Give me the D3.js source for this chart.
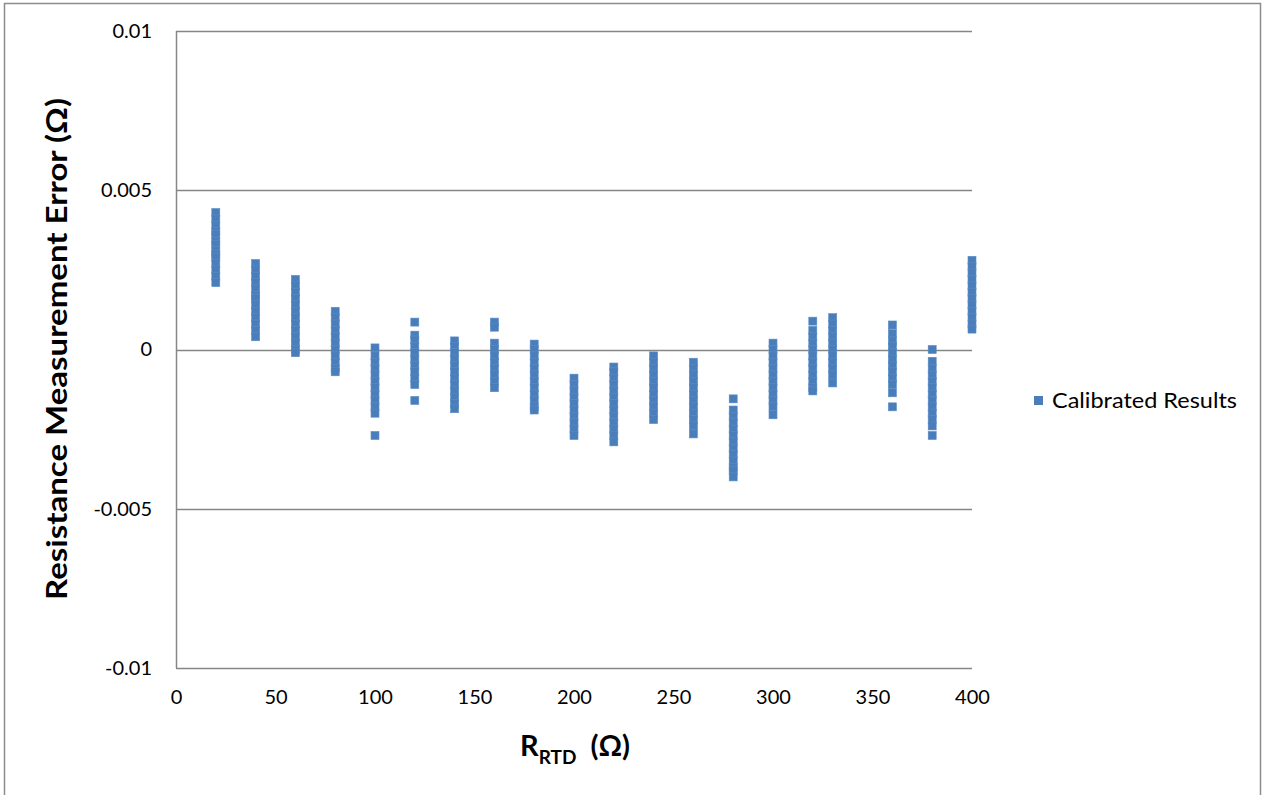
<!DOCTYPE html>
<html>
<head>
<meta charset="utf-8">
<script src="https://cdn.jsdelivr.net/npm/d3@7"></script>
<style>
  body { margin: 0; background: #fff; }
  text { font-family: Lato, "Open Sans", sans-serif; fill: #000; }
</style>
</head>
<body>
<svg id="chart" width="1262" height="795"></svg>
<script>
// RTD resistance points (ohm)
const rtd = [20, 40, 60, 80, 100, 120, 140, 160, 180, 200, 220, 240, 260, 280, 300, 320, 330, 360, 380, 400]

// measurement error readings at each RTD value (ohm)
const errors = [
  [0.0043, 0.0041, 0.0039, 0.0037, 0.0036, 0.0034, 0.0033, 0.0031, 0.0030, 0.0029, 0.0027, 0.0025, 0.0023, 0.0021],
  [0.0027, 0.0025, 0.0023, 0.0021, 0.0019, 0.0017, 0.0016, 0.0014, 0.0012, 0.0010, 0.0008, 0.0006, 0.0004],
  [0.0022, 0.0020, 0.0018, 0.0016, 0.0014, 0.0012, 0.0010, 0.0008, 0.0006, 0.0004, 0.0002, 0.0000, -0.0001],
  [0.0012, 0.0010, 0.0008, 0.0006, 0.0004, 0.0002, 0.0000, -0.0002, -0.0004, -0.0006, -0.0007],
  [0.00005, -0.0002, -0.0004, -0.0006, -0.0008, -0.0010, -0.0012, -0.0014, -0.0016, -0.0018, -0.0020, -0.0027],
  [0.00086, 0.00045, 0.0003, 0.0001, -0.0001, -0.0003, -0.0005, -0.0007, -0.0009, -0.0011, -0.0016],
  [0.00027, 0.0001, -0.0001, -0.0003, -0.0005, -0.0007, -0.0009, -0.0011, -0.0013, -0.0015, -0.0017, -0.00186],
  [0.00086, 0.0007, 0.0002, 0.0000, -0.0002, -0.0004, -0.0006, -0.0008, -0.0010, -0.0012],
  [0.00017, 0.0000, -0.0002, -0.0004, -0.0006, -0.0008, -0.0010, -0.0012, -0.0014, -0.0016, -0.0018, -0.0019],
  [-0.0009, -0.0011, -0.0013, -0.0015, -0.0017, -0.0019, -0.0021, -0.0023, -0.0025, -0.0027],
  [-0.00055, -0.0007, -0.0009, -0.0011, -0.0013, -0.0015, -0.0017, -0.0019, -0.0021, -0.0023, -0.0025, -0.0027, -0.0029],
  [-0.0002, -0.0004, -0.0006, -0.0008, -0.0010, -0.0012, -0.0014, -0.0016, -0.0018, -0.0020, -0.0022],
  [-0.0004, -0.0006, -0.0008, -0.0010, -0.0012, -0.0014, -0.0016, -0.0018, -0.0020, -0.0022, -0.0024, -0.00265],
  [-0.00155, -0.0019, -0.0021, -0.0023, -0.0025, -0.0027, -0.0029, -0.0031, -0.0033, -0.0035, -0.0037, -0.0038, -0.0040],
  [0.0002, 0.0000, -0.0002, -0.0004, -0.0006, -0.0008, -0.0010, -0.0012, -0.0014, -0.0016, -0.0018, -0.00205],
  [0.00089, 0.0006, 0.0004, 0.0002, 0.0000, -0.0002, -0.0004, -0.0006, -0.0008, -0.0010, -0.0012, -0.0013],
  [0.0010, 0.0008, 0.0006, 0.0004, 0.0002, 0.0000, -0.0002, -0.0004, -0.0006, -0.0008, -0.00105],
  [0.00077, 0.0005, 0.00027, 0.0001, -0.0001, -0.0003, -0.0005, -0.0007, -0.0009, -0.0011, -0.00136, -0.0018],
  [0.0000, -0.00037, -0.0006, -0.0008, -0.0010, -0.0012, -0.0014, -0.0016, -0.0018, -0.0020, -0.0022, -0.0024, -0.0027],
  [0.0028, 0.0026, 0.0024, 0.0022, 0.0020, 0.0018, 0.0016, 0.0014, 0.0012, 0.0010, 0.0008, 0.00064]
]

const xTicks = [0, 50, 100, 150, 200, 250, 300, 350, 400]
const yTicks = [-0.01, -0.005, 0, 0.005, 0.01]
const yTickLabels = ["-0.01", "-0.005", "0", "0.005", "0.01"]
const seriesName = "Calibrated Results"

const blue = "#4a7ebb"
const margin = {left: 176, right: 290, top: 31, bottom: 127}
const W = 1262, H = 795
const width = W - margin.left - margin.right,
      height = H - margin.top - margin.bottom

const svg = d3.select("#chart")

// outer chart border
svg.append("rect")
  .attr("x", 4.5).attr("y", 3.5)
  .attr("width", 1256).attr("height", 800)
  .attr("fill", "none").attr("stroke", "#8c8c8c").attr("stroke-width", 1.5)

const g = svg.append("g").attr("transform", "translate(" + margin.left + "," + margin.top + ")")

const x = d3.scaleLinear().domain([0, 400]).range([0, width])
const y = d3.scaleLinear().domain([-0.01, 0.01]).range([height, 0])

// gridlines
g.selectAll(".grid").data(yTicks).enter().append("line")
  .attr("x1", 0).attr("x2", width)
  .attr("y1", d => Math.round(y(d)) + 0.5).attr("y2", d => Math.round(y(d)) + 0.5)
  .attr("stroke", "#868686").attr("stroke-width", 1.5)

// y axis line
g.append("line")
  .attr("x1", 0.5).attr("x2", 0.5).attr("y1", 0).attr("y2", height)
  .attr("stroke", "#868686").attr("stroke-width", 1.5)

// y axis labels (hyphen minus like the original)
const yAxis = d3.axisLeft(y).tickValues(yTicks).tickSize(0).tickPadding(24)
  .tickFormat((d, i) => yTickLabels[i])
const ya = g.append("g").call(yAxis)
ya.select(".domain").remove()
ya.selectAll("text").style("font-size", "20px").style("font-family", "Lato, sans-serif")

// x axis labels
const xAxis = d3.axisBottom(x).tickValues(xTicks).tickSize(0).tickPadding(22)
const xa = g.append("g").attr("transform", "translate(0," + height + ")").call(xAxis)
xa.select(".domain").remove()
xa.selectAll("text").style("font-size", "20px").style("font-family", "Lato, sans-serif")

// points
const pts = []
rtd.forEach((r, i) => errors[i].forEach(e => pts.push({r: r, e: e})))
const ms = 8
g.selectAll(".pt").data(pts).enter().append("rect")
  .attr("x", d => x(d.r) - ms / 2)
  .attr("y", d => y(d.e) - ms / 2)
  .attr("width", ms).attr("height", ms)
  .attr("fill", blue)
  .attr("stroke", "#5a8cc6").attr("stroke-width", 0.6)

// legend
svg.append("rect").attr("x", 1034).attr("y", 396).attr("width", 9).attr("height", 9).attr("fill", blue)
svg.append("text").attr("x", 1052).attr("y", 408)
  .attr("textLength", 185).attr("lengthAdjust", "spacingAndGlyphs")
  .style("font-size", "21px").text(seriesName)

// y title
svg.append("text")
  .attr("transform", "translate(67,349) rotate(-90)")
  .attr("text-anchor", "middle")
  .attr("textLength", 502).attr("lengthAdjust", "spacingAndGlyphs")
  .style("font-size", "29px").style("font-weight", "bold")
  .text("Resistance Measurement Error (Ω)")

// x title
const xt = svg.append("text").attr("x", 575).attr("y", 756)
  .attr("text-anchor", "middle")
  .style("font-size", "29px").style("font-weight", "bold")
xt.append("tspan").text("R")
xt.append("tspan").attr("dy", 8).style("font-size", "19px").text("RTD")
xt.append("tspan").attr("dy", -8).text("\u00a0\u00a0(Ω)")
</script>
</body>
</html>
